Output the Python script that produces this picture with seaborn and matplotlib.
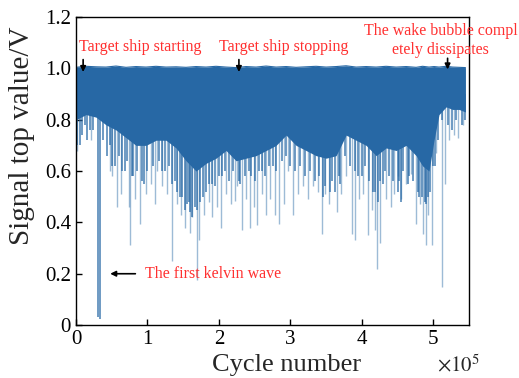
import numpy as np
import seaborn as sns
import matplotlib.pyplot as plt

# cycle number in units of 1e5
body_x = [0.00, 0.14, 0.28, 0.42, 0.56, 0.70, 0.84, 0.98, 1.12, 1.26, 1.40, 1.54,
          1.68, 1.82, 1.96, 2.10, 2.24, 2.38, 2.52, 2.66, 2.80, 2.94, 3.08, 3.22,
          3.36, 3.50, 3.64, 3.78, 3.92, 4.06, 4.20, 4.34, 4.48, 4.62, 4.76, 4.85,
          4.94, 5.01, 5.08, 5.18, 5.27, 5.36, 5.45]
body_top = [1.004, 1.008, 1.006, 1.005, 1.009, 1.004, 1.007, 1.005, 1.008, 1.005, 1.006, 1.004,
            1.007, 1.005, 1.008, 1.005, 1.003, 1.007, 1.005, 1.009, 1.005, 1.007, 1.004, 1.006,
            1.008, 1.005, 1.007, 1.010, 1.005, 1.007, 1.005, 1.008, 1.005, 1.007, 1.004, 1.008,
            1.005, 1.007, 1.005, 1.008, 1.005, 1.004, 1.003]
body_low = [0.80, 0.82, 0.81, 0.78, 0.76, 0.73, 0.70, 0.70, 0.72, 0.72, 0.69, 0.64,
            0.60, 0.63, 0.65, 0.68, 0.64, 0.65, 0.66, 0.68, 0.70, 0.74, 0.70, 0.68,
            0.66, 0.65, 0.66, 0.74, 0.72, 0.70, 0.66, 0.69, 0.68, 0.70, 0.66, 0.62,
            0.60, 0.72, 0.82, 0.85, 0.84, 0.84, 0.83]

# dark spikes just below the dense band
dark_x = [0.02, 0.05, 0.08, 0.12, 0.16, 0.20, 0.24, 0.31, 0.33, 0.38, 0.44, 0.48, 0.50,
          0.54, 0.60, 0.65, 0.68, 0.72, 0.78, 0.80, 0.86, 0.92, 0.95, 1.00, 1.08,
          1.16, 1.20, 1.24, 1.30, 1.35, 1.38, 1.42, 1.45, 1.48, 1.52, 1.55, 1.58, 1.60,
          1.63, 1.66, 1.70, 1.74, 1.78, 1.82, 1.86, 1.90, 1.94, 2.00, 2.05, 2.08, 2.14,
          2.20, 2.28, 2.30, 2.36, 2.42, 2.45, 2.50, 2.56, 2.60, 2.64, 2.70, 2.75, 2.80,
          2.88, 2.94, 3.00, 3.06, 3.14, 3.20, 3.28, 3.34, 3.40, 3.45, 3.48, 3.55, 3.58,
          3.62, 3.68, 3.70, 3.76, 3.84, 3.90, 3.95, 4.00, 4.04, 4.10, 4.15, 4.18, 4.22,
          4.26, 4.30, 4.32, 4.38, 4.44, 4.50, 4.52, 4.55, 4.58, 4.65, 4.66, 4.72, 4.78,
          4.80, 4.84, 4.88, 4.90, 4.92, 4.96, 5.00, 5.02, 5.06, 5.12, 5.20, 5.26, 5.32,
          5.40, 5.44]
dark_y = [0.70, 0.70, 0.74, 0.78, 0.72, 0.76, 0.76, 0.03, 0.025, 0.72, 0.66, 0.70, 0.62,
          0.62, 0.66, 0.60, 0.60, 0.64, 0.58, 0.58, 0.60, 0.56, 0.55, 0.60, 0.62,
          0.64, 0.60, 0.60, 0.62, 0.55, 0.56, 0.52, 0.50, 0.50, 0.45, 0.47, 0.48, 0.44,
          0.42, 0.46, 0.45, 0.48, 0.50, 0.52, 0.55, 0.55, 0.54, 0.58, 0.58, 0.60, 0.56,
          0.60, 0.56, 0.55, 0.58, 0.60, 0.58, 0.56, 0.60, 0.60, 0.58, 0.62, 0.62, 0.60,
          0.64, 0.66, 0.62, 0.60, 0.62, 0.58, 0.60, 0.56, 0.58, 0.50, 0.54, 0.52, 0.56,
          0.52, 0.58, 0.55, 0.66, 0.62, 0.60, 0.58, 0.58, 0.62, 0.56, 0.52, 0.52, 0.48,
          0.56, 0.55, 0.60, 0.58, 0.56, 0.52, 0.56, 0.48, 0.60, 0.55, 0.58, 0.56, 0.52,
          0.50, 0.50, 0.48, 0.47, 0.50, 0.52, 0.62, 0.62, 0.72, 0.80, 0.78, 0.76, 0.80,
          0.78, 0.80]

# pale deep spikes
light_x = [0.02, 0.21, 0.47, 0.51, 0.57, 0.63, 0.74, 0.75, 0.82, 0.90, 0.98, 1.05, 1.11,
           1.14, 1.21, 1.28, 1.35, 1.41, 1.47, 1.52, 1.59, 1.63, 1.70, 1.72, 1.79, 1.86,
           1.91, 1.98, 2.03, 2.10, 2.17, 2.23, 2.26, 2.33, 2.38, 2.43, 2.49, 2.54, 2.60,
           2.66, 2.72, 2.78, 2.84, 2.91, 2.96, 3.03, 3.10, 3.17, 3.24, 3.31, 3.38, 3.44,
           3.49, 3.54, 3.65, 3.71, 3.78, 3.86, 3.91, 3.96, 4.02, 4.08, 4.14, 4.19, 4.21,
           4.25, 4.34, 4.41, 4.45, 4.50, 4.55, 4.62, 4.69, 4.76, 4.81, 4.85, 4.90, 4.93,
           4.98, 5.04, 5.115, 5.17, 5.22, 5.29, 5.35, 5.41]
light_y = [0.68, 0.72, 0.60, 0.58, 0.46, 0.51, 0.46, 0.31, 0.49, 0.395, 0.51, 0.55, 0.47,
           0.60, 0.54, 0.51, 0.25, 0.47, 0.43, 0.38, 0.36, 0.42, 0.175, 0.33, 0.43, 0.48,
           0.42, 0.46, 0.38, 0.51, 0.47, 0.485, 0.54, 0.37, 0.49, 0.38, 0.46, 0.39, 0.51,
           0.43, 0.49, 0.43, 0.395, 0.47, 0.60, 0.43, 0.51, 0.54, 0.49, 0.54, 0.52, 0.355,
           0.51, 0.47, 0.44, 0.51, 0.58, 0.355, 0.33, 0.49, 0.51, 0.35, 0.45, 0.37, 0.22,
           0.32, 0.49, 0.46, 0.51, 0.58, 0.49, 0.55, 0.59, 0.395, 0.47, 0.355, 0.31, 0.43,
           0.31, 0.67, 0.15, 0.55, 0.72, 0.74, 0.73, 0.78]

x_ticks = [0, 1, 2, 3, 4, 5]
y_ticks = [0, 0.2, 0.4, 0.6, 0.8, 1.0, 1.2]
y_labels = ['0', '0.2', '0.4', '0.6', '0.8', '1.0', '1.2']

sns.set_style("ticks")
plt.rcParams['font.family'] = ['Liberation Serif', 'DejaVu Serif']
plt.rcParams['mathtext.fontset'] = 'stix'

blue = '#2768a5'
red = '#ff3030'

fig = plt.figure(figsize=(5.19, 3.78), dpi=100)
ax = fig.add_axes([0.1464, 0.140, 0.7573, 0.815])

ax.fill_between(body_x, body_low, body_top, color=blue, lw=0)
sns.lineplot(x=body_x, y=body_top, color=blue, lw=0.8, ax=ax)
ax.vlines(light_x, light_y, 0.9, color=blue, alpha=0.45, lw=1.0)
ax.vlines(dark_x, dark_y, 0.9, color=blue, alpha=0.85, lw=1.1)

ax.set_xlim(0, 5.5)
ax.set_ylim(0, 1.2)
ax.set_xticks(x_ticks)
ax.set_xticklabels([str(t) for t in x_ticks])
ax.set_yticks(y_ticks)
ax.set_yticklabels(y_labels)
ax.tick_params(direction='in', labelsize=15, length=4, width=1, colors='black')
for s in ax.spines.values():
    s.set_color('black')
    s.set_linewidth(1.0)

ax.set_xlabel('Cycle number', fontsize=19)
ax.xaxis.set_label_coords(0.537, -0.128, transform=ax.transAxes)
ax.xaxis.label.set_va('center')
ax.set_ylabel('Signal top value/V', fontsize=21)
ax.yaxis.set_label_coords(-0.137, 0.614, transform=ax.transAxes)
ax.yaxis.label.set_va('center')
ax.text(0.919, -0.13, r'$\times10^5$', transform=ax.transAxes, fontsize=15,
        va='center', ha='left')

# annotations
ax.text(0.9, 1.085, 'Target ship starting', color=red, fontsize=11.5, ha='center', va='center')
ax.text(2.91, 1.085, 'Target ship stopping', color=red, fontsize=11.5, ha='center', va='center')
ax.text(5.1, 1.11, 'The wake bubble compl\netely dissipates', color=red, fontsize=11.5,
        ha='center', va='center', linespacing=1.25, clip_on=False)
ax.text(0.97, 0.2, 'The first kelvin wave', color=red, fontsize=11.5, ha='left', va='center')

arrow = dict(arrowstyle='-|>', color='black', lw=1.2, mutation_scale=8)
ax.annotate('', xy=(0.1, 0.975), xytext=(0.1, 1.045), arrowprops=arrow)
ax.annotate('', xy=(2.28, 0.975), xytext=(2.28, 1.045), arrowprops=arrow)
ax.annotate('', xy=(5.2, 0.985), xytext=(5.2, 1.05), arrowprops=arrow)
ax.annotate('', xy=(0.44, 0.2), xytext=(0.87, 0.2), arrowprops=arrow)

fig.savefig('out.png', dpi=100)
